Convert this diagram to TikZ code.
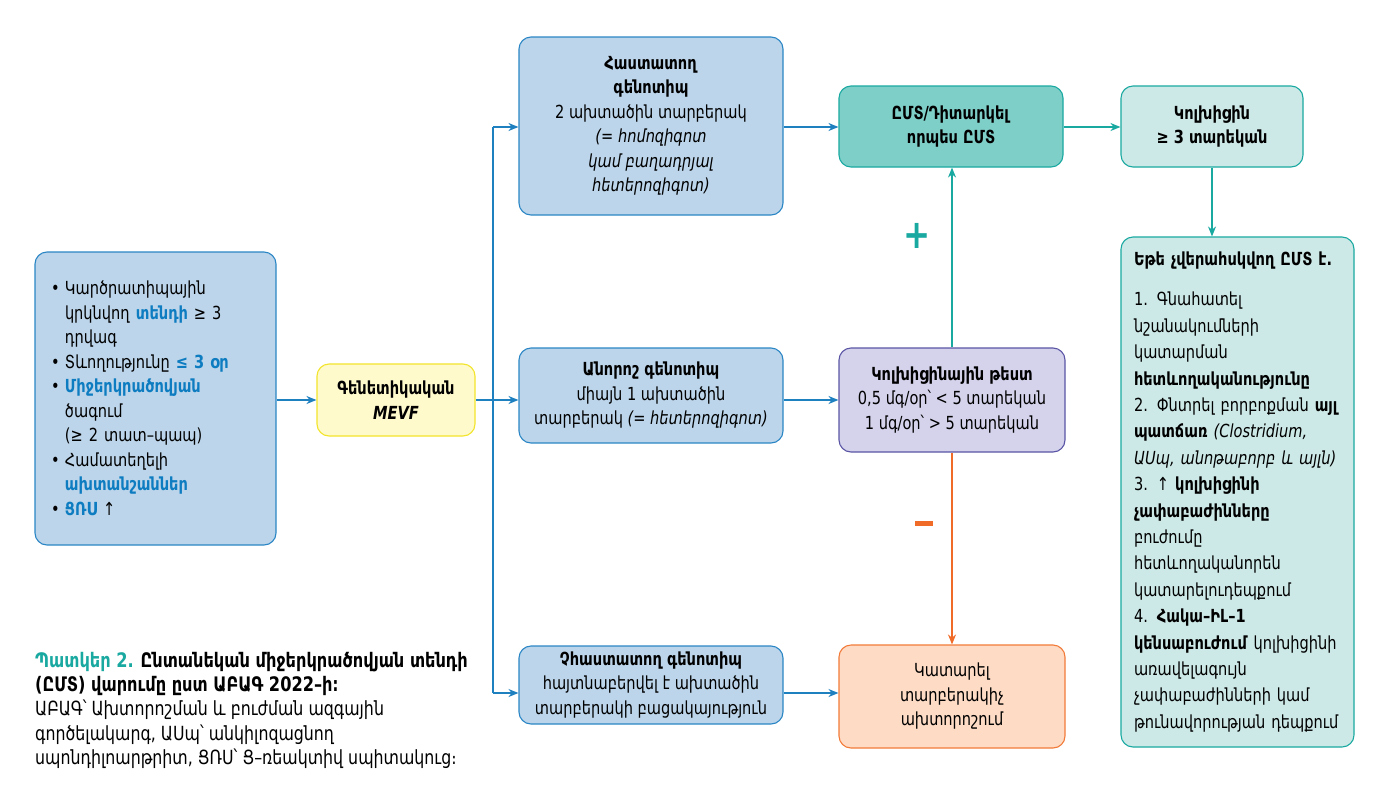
\documentclass[tikz,border=0pt]{standalone}
\usepackage{fontspec}
\setmainfont{DejaVu Sans}[FakeStretch=0.81]
\usetikzlibrary{arrows.meta}
\definecolor{boxblue}{HTML}{BCD5EA}
\definecolor{lineblue}{HTML}{2B86C5}
\definecolor{arrblue}{HTML}{1F80C0}
\definecolor{textblue}{HTML}{0D7CC0}
\definecolor{yelfill}{HTML}{FFFACC}
\definecolor{yelline}{HTML}{F2E42A}
\definecolor{tealfill}{HTML}{7FCFC9}
\definecolor{tealline}{HTML}{1AA9A1}
\definecolor{lteal}{HTML}{CDE9E7}
\definecolor{lavfill}{HTML}{D5D3EC}
\definecolor{lavline}{HTML}{5A55A5}
\definecolor{peach}{HTML}{FDDBC5}
\definecolor{orline}{HTML}{F37B3A}
\definecolor{orarr}{HTML}{F06A28}
\newcommand\hl[1]{\textbf{\color{textblue}#1}}
\newcommand\bul{\makebox[14pt][l]{•}}
\newcommand\ind{\makebox[14pt][l]{}}
\begin{document}
\begin{tikzpicture}[x=1pt,y=-1pt,
  font=\fontsize{18}{24.5}\selectfont,
  base/.style={rounded corners=12, line width=1.1pt, align=center, inner sep=4pt},
  bluebox/.style={base, fill=boxblue, draw=lineblue},
  yelbox/.style={base, fill=yelfill, draw=yelline},
  tealbox/.style={base, fill=tealfill, draw=tealline},
  ltealbox/.style={base, fill=lteal, draw=tealline},
  lavbox/.style={base, fill=lavfill, draw=lavline},
  orbox/.style={base, fill=peach, draw=orline},
  arr/.style={-{Stealth[length=10pt,width=8pt]}, line width=1.3pt},
  barr/.style={arr, draw=arrblue},
  tarr/.style={arr, draw=tealline},
  oarr/.style={arr, draw=orarr}]
\useasboundingbox (0,0) rectangle (1393,793);
\fill[white] (0,0) rectangle (1393,793);

% left symptoms box
\node[bluebox, align=left, text width=209, inner xsep=16, minimum height=293] (sym) at (155.5,398.5) {%
\bul Կարծրատիպային\\
\ind կրկնվող \hl{տենդի} ≥ 3\\
\ind դրվագ\\
\bul Տևողությունը \hl{≤ 3 օր}\\
\bul \hl{Միջերկրածովյան}\\
\ind ծագում\\
\ind (≥ 2 տատ–պապ)\\
\bul Համատեղելի\\
\ind \hl{ախտանշաններ}\\
\bul \hl{ՑՌՍ} ↑};

\node[yelbox, minimum width=158, minimum height=72] (gen) at (396,400) {\textbf{Գենետիկական}\\\textbf{\itshape MEVF}};

\node[bluebox, minimum width=264, minimum height=178] (conf) at (651,126) {%
\textbf{Հաստատող}\\\textbf{գենոտիպ}\\2 ախտածին տարբերակ\\\textit{(= հոմոզիգոտ}\\\textit{կամ բաղադրյալ}\\\textit{հետերոզիգոտ)}};

\node[bluebox, minimum width=264, minimum height=95] (unc) at (651,395.5) {%
\textbf{Անորոշ գենոտիպ}\\միայն 1 ախտածին\\տարբերակ \textit{(= հետերոզիգոտ)}};

\node[bluebox, minimum width=264, minimum height=78] (nonc) at (651,685) {%
\textbf{Չհաստատող գենոտիպ}\\հայտնաբերվել է ախտածին\\տարբերակի բացակայություն};

\node[tealbox, minimum width=224, minimum height=81] (fmf) at (951,126.5) {%
\textbf{ԸՄՏ/Դիտարկել}\\\textbf{որպես ԸՄՏ}};

\node[lavbox, minimum width=226, minimum height=104] (test) at (952,400) {%
\textbf{Կոլխիցինային թեստ}\\0,5 մգ/օր՝ < 5 տարեկան\\1 մգ/օր՝ > 5 տարեկան};

\node[orbox, minimum width=226, minimum height=103] (diff) at (952,696.5) {%
Կատարել\\տարբերակիչ\\ախտորոշում};

\node[ltealbox, minimum width=182, minimum height=81] (colch) at (1212,126.5) {%
\textbf{Կոլխիցին}\\\textbf{≥ 3 տարեկան}};

\node[ltealbox, align=left, text width=207, inner xsep=13, minimum height=510,
  font=\fontsize{18}{26.4}\selectfont] (ctrl) at (1237.5,492) {%
\textbf{Եթե չվերահսկվող ԸՄՏ է.}\\[14pt]
1. Գնահատել\\
նշանակումների\\
կատարման\\
\textbf{հետևողականությունը}\\
2. Փնտրել բորբոքման \textbf{այլ}\\
\textbf{պատճառ} \textit{(Clostridium,}\\
\textit{ԱՍպ, անոթաբորբ և այլն)}\\
3. ↑ \textbf{կոլխիցինի}\\
\textbf{չափաբաժինները}\\
բուժումը\\
հետևողականորեն\\
կատարելուդեպքում\\
4. \textbf{Հակա–ԻԼ–1}\\
\textbf{կենսաբուժում} կոլխիցինի\\
առավելագույն\\
չափաբաժինների կամ\\
թունավորության դեպքում};

% caption
\node[anchor=north west, align=left, inner sep=0pt, font=\fontsize{19.5}{24.2}\selectfont] (cap) at (35,652) {%
{\fontsize{20}{24.2}\selectfont\textbf{\color{tealline}Պատկեր 2.} \textbf{Ընտանեկան միջերկրածովյան տենդի}}\\
{\fontsize{20}{24.2}\selectfont\textbf{(ԸՄՏ) վարումը ըստ ԱԲԱԳ 2022–ի։}}\\
ԱԲԱԳ՝ Ախտորոշման և բուժման ազգային\\
գործելակարգ, ԱՍպ՝ անկիլոզացնող\\
սպոնդիլոարթրիտ, ՑՌՍ՝ Ց–ռեակտիվ սպիտակուց։};

% connectors
\coordinate (trunk) at (493,400);
\coordinate (low) at (493,693);
\coordinate (top) at (493,127);
\draw[barr] (gen.west -| sym.east) -- (gen.west);
\draw[arrblue, line width=1.3pt] (gen.east) -- (trunk);
\draw[arrblue, line width=1.3pt] (top) -- (low);
\draw[barr] (top) -- (top -| conf.west);
\draw[barr] (trunk) -- (trunk -| unc.west);
\draw[barr] (low) -- (low -| nonc.west);
\draw[barr] (conf.east |- top) -- (top -| fmf.west);
\draw[barr] (unc.east |- trunk) -- (trunk -| test.west);
\draw[barr] (nonc.east |- low) -- (low -| diff.west);
\draw[tarr] (fmf.east |- top) -- (top -| colch.west);
\draw[tarr] (colch.south) -- (colch.south |- ctrl.north);
\draw[tarr] (test.north) -- (fmf.south -| test.north);
\draw[oarr] (test.south) -- (diff.north);
\node[text=tealline, font=\fontsize{40}{40}\bfseries] (plus) at (917,236) {+};
\node[inner sep=0pt] (minus) at (924,523) {\color{orarr}\rule{18pt}{5pt}};
\end{tikzpicture}
\end{document}
